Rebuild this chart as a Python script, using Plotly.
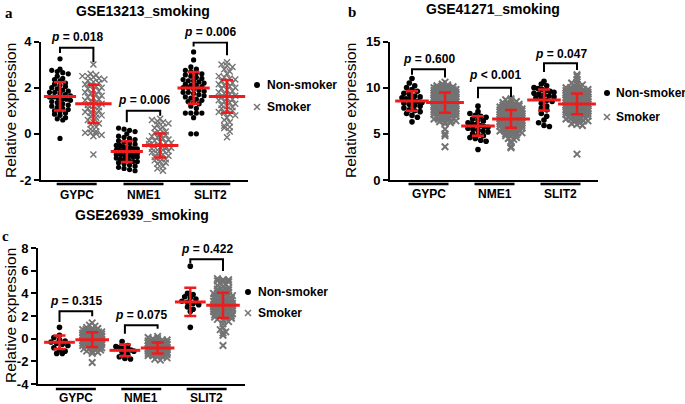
import numpy as np
import plotly.graph_objects as go

# ====================== DATA ======================
genes = ["GYPC", "NME1", "SLIT2"]
series_names = ["Non-smoker", "Smoker"]
titles = ["GSE13213_smoking", "GSE41271_smoking", "GSE26939_smoking"]
panel_letters = ["a", "b", "c"]
a_ticks = [-2, 0, 2, 4]
b_ticks = [0, 5, 10, 15]
c_ticks = [-4, -2, 0, 2, 4, 6, 8]

a_pvals = ["p = 0.018", "p = 0.006", "p = 0.006"]
b_pvals = ["p = 0.600", "p < 0.001", "p = 0.047"]
c_pvals = ["p = 0.315", "p = 0.075", "p = 0.422"]

# mean and SD
a_mean_non = [1.62, -0.77, 1.99]
a_sd_non = [0.61, 0.45, 0.69]
a_mean_smk = [1.30, -0.51, 1.62]
a_sd_smk = [0.83, 0.52, 0.71]
b_mean_non = [8.55, 5.85, 8.66]
b_sd_non = [1.06, 1.05, 1.13]
b_mean_smk = [8.38, 6.62, 8.24]
b_sd_smk = [1.09, 0.95, 1.13]
c_mean_non = [-0.32, -1.03, 3.24]
c_sd_non = [0.60, 0.52, 1.25]
c_mean_smk = [-0.09, -0.82, 2.94]
c_sd_smk = [0.65, 0.49, 1.12]

# individual samples (estimated from the dots)
a_gypc_non = [3.25, 2.8, 2.75, 2.7, 2.65, 2.6, 2.5, 2.4, 2.35, 2.3, 2.2, 2.15, 2.1, 2.05, 2.0, 1.95,
              1.9, 1.85, 1.8, 1.8, 1.75, 1.7, 1.65, 1.6, 1.6, 1.55, 1.5, 1.5, 1.45, 1.4, 1.35, 1.3,
              1.25, 1.2, 1.15, 1.1, 1.05, 1.0, 0.95, 0.9, 0.85, 0.8, 0.7, 0.65, 0.6, -0.2]
a_gypc_smk = [3.0, 2.6, 2.55, 2.5, 2.5, 2.45, 2.4, 2.35, 2.3, 2.25, 2.2, 2.15, 2.1, 2.05, 2.0, 1.95,
              1.9, 1.85, 1.8, 1.75, 1.7, 1.65, 1.6, 1.55, 1.5, 1.45, 1.4, 1.35, 1.3, 1.25, 1.2, 1.15,
              1.1, 1.05, 1.0, 0.95, 0.9, 0.85, 0.8, 0.75, 0.7, 0.6, 0.5, 0.45, 0.4, 0.3, 0.2, 0.1,
              0.05, 0.05, 0.0, -0.05, -0.1, -0.9]
a_nme1_non = [0.25, 0.2, 0.15, 0.1, 0.0, -0.1, -0.15, -0.2, -0.25, -0.3, -0.35, -0.4, -0.45, -0.5,
              -0.5, -0.55, -0.6, -0.6, -0.65, -0.65, -0.7, -0.7, -0.75, -0.75, -0.8, -0.8, -0.85,
              -0.85, -0.9, -0.9, -0.95, -0.95, -1.0, -1.0, -1.05, -1.1, -1.1, -1.15, -1.2, -1.2,
              -1.25, -1.3, -1.35, -1.4, -1.45, -1.5, -1.55, -1.6]
a_nme1_smk = [0.65, 0.6, 0.55, 0.5, 0.45, 0.4, 0.3, 0.25, 0.2, 0.1, 0.05, 0.0, -0.05, -0.1, -0.15,
              -0.2, -0.25, -0.3, -0.3, -0.35, -0.4, -0.4, -0.45, -0.5, -0.5, -0.55, -0.6, -0.6,
              -0.65, -0.7, -0.7, -0.75, -0.8, -0.85, -0.9, -0.95, -1.0, -1.05, -1.1, -1.15, -1.2,
              -1.25, -1.3, -1.4, -1.5, -1.6]
a_slit2_non = [3.55, 3.2, 2.9, 2.8, 2.75, 2.7, 2.65, 2.6, 2.55, 2.5, 2.45, 2.4, 2.35, 2.3, 2.3, 2.25,
               2.2, 2.15, 2.1, 2.1, 2.05, 2.0, 2.0, 1.95, 1.9, 1.85, 1.8, 1.8, 1.75, 1.7, 1.65, 1.6,
               1.55, 1.5, 1.45, 1.4, 1.35, 1.3, 1.2, 1.1, 0.9, 0.9, 0.9, 0.9, 0.7, 0.0, 0.0]
a_slit2_smk = [3.1, 3.0, 2.95, 2.9, 2.8, 2.7, 2.6, 2.5, 2.45, 2.4, 2.35, 2.3, 2.25, 2.2, 2.15, 2.1,
               2.05, 2.0, 1.95, 1.9, 1.85, 1.8, 1.75, 1.7, 1.65, 1.6, 1.55, 1.5, 1.45, 1.4, 1.35, 1.3,
               1.25, 1.2, 1.15, 1.1, 1.05, 1.0, 0.95, 0.9, 0.85, 0.8, 0.7, 0.6, 0.5, 0.35, 0.3, 0.25,
               0.1, -0.15]

b_gypc_non = [11.0, 10.5, 10.2, 10.0, 9.8, 9.6, 9.4, 9.3, 9.1, 9.0, 8.9, 8.8, 8.7, 8.6, 8.5, 8.4,
              8.3, 8.2, 8.1, 8.0, 7.8, 7.6, 7.5, 7.4, 7.2, 7.0, 6.8, 6.3]
b_gypc_smk = [10.6, 10.4, 10.3, 10.2, 10.2, 10.1, 10.1, 10.0, 10.0, 10.0, 9.9, 9.9, 9.9, 9.8, 9.8,
              9.8, 9.7, 9.7, 9.7, 9.7, 9.6, 9.6, 9.6, 9.6, 9.5, 9.5, 9.5, 9.5, 9.4, 9.4, 9.4, 9.4,
              9.3, 9.3, 9.3, 9.3, 9.2, 9.2, 9.2, 9.2, 9.1, 9.1, 9.1, 9.1, 9.0, 9.0, 9.0, 9.0, 9.0,
              8.9, 8.9, 8.9, 8.9, 8.8, 8.8, 8.8, 8.8, 8.7, 8.7, 8.7, 8.7, 8.6, 8.6, 8.6, 8.6, 8.5,
              8.5, 8.5, 8.5, 8.4, 8.4, 8.4, 8.4, 8.3, 8.3, 8.3, 8.3, 8.2, 8.2, 8.2, 8.2, 8.1, 8.1,
              8.1, 8.0, 8.0, 8.0, 7.9, 7.9, 7.9, 7.8, 7.8, 7.8, 7.7, 7.7, 7.7, 7.6, 7.6, 7.6, 7.5,
              7.5, 7.4, 7.4, 7.3, 7.3, 7.2, 7.2, 7.1, 7.1, 7.0, 7.0, 6.9, 6.9, 6.8, 6.8, 6.7, 6.7,
              6.6, 6.6, 6.5, 6.5, 6.4, 6.4, 6.3, 6.3, 6.2, 6.1, 5.5, 5.0, 4.8, 3.6]
b_nme1_non = [8.0, 7.4, 7.2, 7.0, 6.9, 6.8, 6.6, 6.5, 6.4, 6.2, 6.1, 6.0, 5.9, 5.8, 5.7, 5.6, 5.5,
              5.4, 5.3, 5.2, 5.0, 4.9, 4.8, 4.6, 4.5, 4.3, 4.2, 3.3]
b_nme1_smk = [8.8, 8.7, 8.6, 8.5, 8.4, 8.3, 8.2, 8.2, 8.1, 8.1, 8.0, 8.0, 7.9, 7.9, 7.9, 7.8, 7.8,
              7.8, 7.7, 7.7, 7.7, 7.6, 7.6, 7.6, 7.5, 7.5, 7.5, 7.5, 7.4, 7.4, 7.4, 7.4, 7.3, 7.3,
              7.3, 7.3, 7.2, 7.2, 7.2, 7.2, 7.1, 7.1, 7.1, 7.1, 7.0, 7.0, 7.0, 7.0, 6.9, 6.9, 6.9,
              6.9, 6.8, 6.8, 6.8, 6.8, 6.7, 6.7, 6.7, 6.7, 6.6, 6.6, 6.6, 6.6, 6.5, 6.5, 6.5, 6.5,
              6.4, 6.4, 6.4, 6.4, 6.3, 6.3, 6.3, 6.3, 6.2, 6.2, 6.2, 6.1, 6.1, 6.1, 6.0, 6.0, 6.0,
              5.9, 5.9, 5.9, 5.8, 5.8, 5.8, 5.7, 5.7, 5.6, 5.6, 5.5, 5.5, 5.4, 5.4, 5.3, 5.3, 5.2,
              5.2, 5.1, 5.1, 5.0, 5.0, 4.9, 4.8, 4.7, 4.6, 4.5, 4.4, 4.2, 4.0, 3.6, 3.5]
b_slit2_non = [10.7, 10.4, 10.2, 10.0, 9.9, 9.8, 9.7, 9.6, 9.5, 9.4, 9.3, 9.2, 9.1, 9.0, 8.9, 8.8,
               8.6, 8.5, 8.3, 8.0, 7.8, 7.6, 7.2, 6.9, 6.5, 6.2, 5.9, 5.8]
b_slit2_smk = [11.4, 11.2, 10.9, 10.6, 10.5, 10.4, 10.3, 10.2, 10.1, 10.0, 10.0, 9.9, 9.9, 9.8, 9.8,
               9.7, 9.7, 9.6, 9.6, 9.6, 9.5, 9.5, 9.5, 9.4, 9.4, 9.4, 9.3, 9.3, 9.3, 9.2, 9.2, 9.2,
               9.1, 9.1, 9.1, 9.0, 9.0, 9.0, 9.0, 8.9, 8.9, 8.9, 8.9, 8.8, 8.8, 8.8, 8.8, 8.7, 8.7,
               8.7, 8.7, 8.6, 8.6, 8.6, 8.6, 8.5, 8.5, 8.5, 8.5, 8.4, 8.4, 8.4, 8.4, 8.3, 8.3, 8.3,
               8.3, 8.2, 8.2, 8.2, 8.2, 8.1, 8.1, 8.1, 8.1, 8.0, 8.0, 8.0, 8.0, 7.9, 7.9, 7.9, 7.8,
               7.8, 7.8, 7.7, 7.7, 7.7, 7.6, 7.6, 7.6, 7.5, 7.5, 7.5, 7.4, 7.4, 7.3, 7.3, 7.2, 7.2,
               7.1, 7.1, 7.0, 7.0, 6.9, 6.9, 6.8, 6.8, 6.7, 6.7, 6.6, 6.6, 6.5, 6.5, 6.4, 6.4, 6.3,
               6.2, 6.1, 6.0, 5.9, 2.8]

c_gypc_non = [1.0, 0.3, 0.1, -0.1, -0.2, -0.3, -0.4, -0.5, -0.6, -0.8, -1.0, -1.1, -1.3, -1.3]
c_gypc_smk = [1.4, 1.2, 1.1, 1.0, 0.9, 0.9, 0.8, 0.8, 0.7, 0.7, 0.6, 0.6, 0.6, 0.5, 0.5, 0.5, 0.4,
              0.4, 0.4, 0.4, 0.3, 0.3, 0.3, 0.3, 0.2, 0.2, 0.2, 0.2, 0.1, 0.1, 0.1, 0.1, 0.0, 0.0,
              0.0, 0.0, 0.0, -0.1, -0.1, -0.1, -0.1, -0.2, -0.2, -0.2, -0.2, -0.3, -0.3, -0.3, -0.3,
              -0.4, -0.4, -0.4, -0.4, -0.5, -0.5, -0.5, -0.6, -0.6, -0.6, -0.7, -0.7, -0.7, -0.8,
              -0.8, -0.9, -0.9, -1.0, -1.0, -1.1, -1.1, -1.2, -1.3, -2.1]
c_nme1_non = [-0.25, -0.6, -0.7, -0.8, -0.85, -0.9, -0.95, -1.0, -1.1, -1.2, -1.4, -1.6, -1.75, -1.8]
c_nme1_smk = [0.2, 0.1, 0.0, 0.0, -0.1, -0.1, -0.2, -0.2, -0.2, -0.3, -0.3, -0.3, -0.4, -0.4, -0.4,
              -0.4, -0.5, -0.5, -0.5, -0.5, -0.6, -0.6, -0.6, -0.6, -0.6, -0.7, -0.7, -0.7, -0.7,
              -0.7, -0.8, -0.8, -0.8, -0.8, -0.8, -0.9, -0.9, -0.9, -0.9, -0.9, -1.0, -1.0, -1.0,
              -1.0, -1.1, -1.1, -1.1, -1.1, -1.2, -1.2, -1.2, -1.3, -1.3, -1.3, -1.4, -1.4, -1.5,
              -1.5, -1.6, -1.6, -1.7, -1.8, -1.9]
c_slit2_non = [6.4, 4.0, 3.9, 3.7, 3.6, 3.5, 3.3, 3.2, 3.1, 3.0, 2.8, 2.6, 2.4, 1.0]
c_slit2_smk = [5.3, 5.2, 5.2, 5.1, 5.0, 5.0, 4.9, 4.8, 4.7, 4.6, 4.5, 4.4, 4.3, 4.3, 4.2, 4.2, 4.1,
               4.0, 4.0, 3.9, 3.9, 3.8, 3.8, 3.7, 3.7, 3.6, 3.6, 3.5, 3.5, 3.4, 3.4, 3.3, 3.3, 3.3,
               3.2, 3.2, 3.2, 3.1, 3.1, 3.1, 3.0, 3.0, 3.0, 2.9, 2.9, 2.9, 2.8, 2.8, 2.8, 2.7, 2.7,
               2.7, 2.6, 2.6, 2.6, 2.5, 2.5, 2.5, 2.4, 2.4, 2.3, 2.3, 2.2, 2.2, 2.1, 2.1, 2.0, 2.0,
               1.9, 1.9, 1.8, 1.8, 1.7, 1.6, 1.5, 1.3, 1.0, 0.8, 0.6, 0.5, 0.3, -0.6]

# ====================== LAYOUT / STYLE ======================
W, H = 685, 404
FONT = "Arial, 'Liberation Sans', sans-serif"
SERIF = "'Times New Roman', 'Liberation Serif', serif"
RED = "#EE1C1C"
GRAY = "#737373"

panels = [
    dict(sfx="", xpx=(41, 248), c0=60.0, step=33.4, ypx=(41.5, 180.0), yr=(-2, 4), ticks=a_ticks,
         pts=[[a_gypc_non, a_gypc_smk], [a_nme1_non, a_nme1_smk], [a_slit2_non, a_slit2_smk]],
         mean=[a_mean_non, a_mean_smk], sd=[a_sd_non, a_sd_smk], pv=a_pvals,
         brk_top=[3.73, 1.0, 3.96], brk_l=[3.5, 0.5, 3.78], brk_r=[3.1, 0.78, 3.4],
         p_y=[4.18, 1.48, 4.42], half=[10.5, 11], mw=[23, 26], row=[4.4, 4.0], stp=5.5,
         dot=5.2, xs=6, xw=1.4,
         title=(143, 11), letter=(8.5, 13), ytitle=(10, 111), catbar=184, catlab=195,
         leg=(257, 265, 85, 107)),
    dict(sfx="2", xpx=(390, 598), c0=412.0, step=33.0, ypx=(41.5, 180.0), yr=(0, 15), ticks=b_ticks,
         pts=[[b_gypc_non, b_gypc_smk], [b_nme1_non, b_nme1_smk], [b_slit2_non, b_slit2_smk]],
         mean=[b_mean_non, b_mean_smk], sd=[b_sd_non, b_sd_smk], pv=b_pvals,
         brk_top=[12.0, 10.0, 12.64], brk_l=[11.4, 8.85, 11.7], brk_r=[11.1, 9.0, 11.9],
         p_y=[13.1, 11.4, 13.65], half=[10, 11], mw=[24, 27], row=[5.0, 2.4], stp=5.4,
         dot=5.6, xs=6.5, xw=2.0,
         title=(493, 9), letter=(352, 12), ytitle=(350, 111), catbar=184, catlab=194,
         leg=(607, 614, 93, 117)),
    dict(sfx="3", xpx=(38, 245), c0=59.5, step=32.7, ypx=(248.0, 384.0), yr=(-4, 8), ticks=c_ticks,
         pts=[[c_gypc_non, c_gypc_smk], [c_nme1_non, c_nme1_smk], [c_slit2_non, c_slit2_smk]],
         mean=[c_mean_non, c_mean_smk], sd=[c_sd_non, c_sd_smk], pv=c_pvals,
         brk_top=[2.41, 1.18, 7.0], brk_l=[1.47, 0.44, 6.68], brk_r=[1.97, 0.88, 5.97],
         p_y=[3.32, 2.06, 7.94], half=[9, 9.5], mw=[22, 24], row=[5.0, 2.6], stp=5.6,
         dot=5.6, xs=6.5, xw=1.9,
         title=(142, 215), letter=(5, 236), ytitle=(10, 316), catbar=389, catlab=398,
         leg=(248, 256, 292, 313)),
]


def px(x):
    return x / W


def py(y):
    return 1 - y / H


def swarm_x(values, center, ppx, ppy, max_half, row_px, step_px):
    vals = np.asarray(values, float)
    rows = np.round(vals * ppy / row_px).astype(int)
    xs = np.empty(len(vals))
    for r in np.unique(rows):
        idx = np.where(rows == r)[0]
        n = len(idx)
        sp = step_px
        if n > 1 and (n - 1) * step_px > 2 * max_half:
            sp = 2 * max_half / (n - 1)
        offs = (np.arange(n) - (n - 1) / 2) * sp
        xs[idx] = center + offs / ppx
    return xs


def anno(**kw):
    d = dict(showarrow=False, xanchor="center", yanchor="middle")
    d.update(kw)
    return d


fig = go.Figure()
shapes, annos = [], []
layout_axes = {}
err_traces = []

for P in panels:
    s = P["sfx"]
    xa, ya = "x" + s, "y" + s
    ppy = (P["ypx"][1] - P["ypx"][0]) / (P["yr"][1] - P["yr"][0])
    xr = ((P["xpx"][0] - P["c0"]) / P["step"], (P["xpx"][1] - P["c0"]) / P["step"])
    for gi in range(3):
        for si in range(2):
            pos = 2 * gi + si
            vals = P["pts"][gi][si]
            xs = swarm_x(vals, pos, P["step"], ppy, P["half"][si], P["row"][si], P["stp"])
            if si == 0:
                mk = dict(symbol="circle", size=P["dot"], color="black")
            else:
                mk = dict(symbol="x-thin", size=P["xs"], color=GRAY, line=dict(width=P["xw"], color=GRAY))
            fig.add_trace(go.Scatter(x=xs, y=vals, mode="markers", marker=mk, xaxis=xa, yaxis=ya,
                                     showlegend=False, hoverinfo="skip", cliponaxis=False))
    for si in range(2):
        err_traces.append(go.Scatter(
            x=[2 * g + si for g in range(3)], y=P["mean"][si], mode="markers",
            marker=dict(symbol="line-ew", size=P["mw"][si], color=RED, line=dict(width=3, color=RED)),
            error_y=dict(type="data", array=P["sd"][si], visible=True, color=RED, thickness=2.5, width=6),
            xaxis=xa, yaxis=ya, showlegend=False, hoverinfo="skip", cliponaxis=False))

    dom_x = [px(P["xpx"][0]), px(P["xpx"][1])]
    dom_y = [py(P["ypx"][1]), py(P["ypx"][0])]
    layout_axes["xaxis" + s] = dict(domain=dom_x, range=list(xr), anchor=ya, showline=True, linewidth=2,
                                    linecolor="black", showgrid=False, zeroline=False, ticks="",
                                    showticklabels=False, fixedrange=True, automargin=False)
    layout_axes["yaxis" + s] = dict(domain=dom_y, range=list(P["yr"]), anchor=xa, showline=True,
                                    linewidth=2, linecolor="black", showgrid=False, zeroline=False,
                                    ticks="outside", ticklen=5, tickwidth=2, tickcolor="black",
                                    tickvals=P["ticks"], ticktext=[str(t) for t in P["ticks"]],
                                    tickfont=dict(family=FONT, size=13, color="black", weight="bold"),
                                    fixedrange=True, automargin=False)

    y0, y1 = P["yr"]
    for gi in range(3):
        x0, x1 = 2 * gi, 2 * gi + 1
        shapes.append(dict(type="path", xref=xa, yref=ya,
                           path=f"M {x0},{P['brk_l'][gi]} L {x0},{P['brk_top'][gi]} L {x1},{P['brk_top'][gi]} L {x1},{P['brk_r'][gi]}",
                           line=dict(color="black", width=2)))
        txt = P["pv"][gi].replace("p ", "<i>p</i> ", 1)
        annos.append(anno(x=x0 + 0.5, y=(P["p_y"][gi] - y0) / (y1 - y0), xref=xa, yref=ya + " domain",
                          text=f"<b>{txt}</b>", font=dict(family=FONT, size=12, color="black")))
        hw = 20.0 / P["step"]
        shapes.append(dict(type="line", xref=xa, yref="paper", x0=x0 + 0.5 - hw, x1=x0 + 0.5 + hw,
                           y0=py(P["catbar"]), y1=py(P["catbar"]), line=dict(color="black", width=2.5)))
        annos.append(anno(x=x0 + 0.5, y=py(P["catlab"]), xref=xa, yref="paper", text=f"<b>{genes[gi]}</b>",
                          font=dict(family=FONT, size=12, color="black")))

for t in err_traces:
    fig.add_trace(t)

for k, P in enumerate(panels):
    annos.append(anno(x=px(P["title"][0]), y=py(P["title"][1]), xref="paper", yref="paper",
                      text=f"<b>{titles[k]}</b>", font=dict(family=FONT, size=14, color="black")))
    annos.append(anno(x=px(P["letter"][0]), y=py(P["letter"][1]), xref="paper", yref="paper",
                      text=f"<b>{panel_letters[k]}</b>", font=dict(family=SERIF, size=15, color="black")))
    annos.append(anno(x=px(P["ytitle"][0]), y=py(P["ytitle"][1]), xref="paper", yref="paper",
                      text="Relative expression", textangle=-90,
                      font=dict(family=FONT, size=15.5, color="black")))
    mx, tx, yy1, yy2 = P["leg"]
    r = 3.0
    shapes.append(dict(type="circle", xref="paper", yref="paper", x0=px(mx - r), x1=px(mx + r),
                       y0=py(yy1 + r), y1=py(yy1 - r), fillcolor="black", line=dict(width=0)))
    for d in (1, -1):
        shapes.append(dict(type="line", xref="paper", yref="paper", x0=px(mx - 3), x1=px(mx + 3),
                           y0=py(yy2 - 3 * d), y1=py(yy2 + 3 * d), line=dict(color=GRAY, width=1.5)))
    for name, yy in zip(series_names, (yy1, yy2)):
        annos.append(anno(x=px(tx), y=py(yy), xref="paper", yref="paper", xanchor="left",
                          text=f"<b>{name}</b>", font=dict(family=FONT, size=12, color="black")))

fig.update_layout(width=W, height=H, margin=dict(l=0, r=0, t=0, b=0, pad=0, autoexpand=False),
                  paper_bgcolor="white", plot_bgcolor="white", showlegend=False, shapes=shapes,
                  annotations=annos, **layout_axes)
fig.write_html("out.html", config={"displayModeBar": False},
               post_script="document.body.style.margin='0px';document.body.style.overflow='hidden';")
